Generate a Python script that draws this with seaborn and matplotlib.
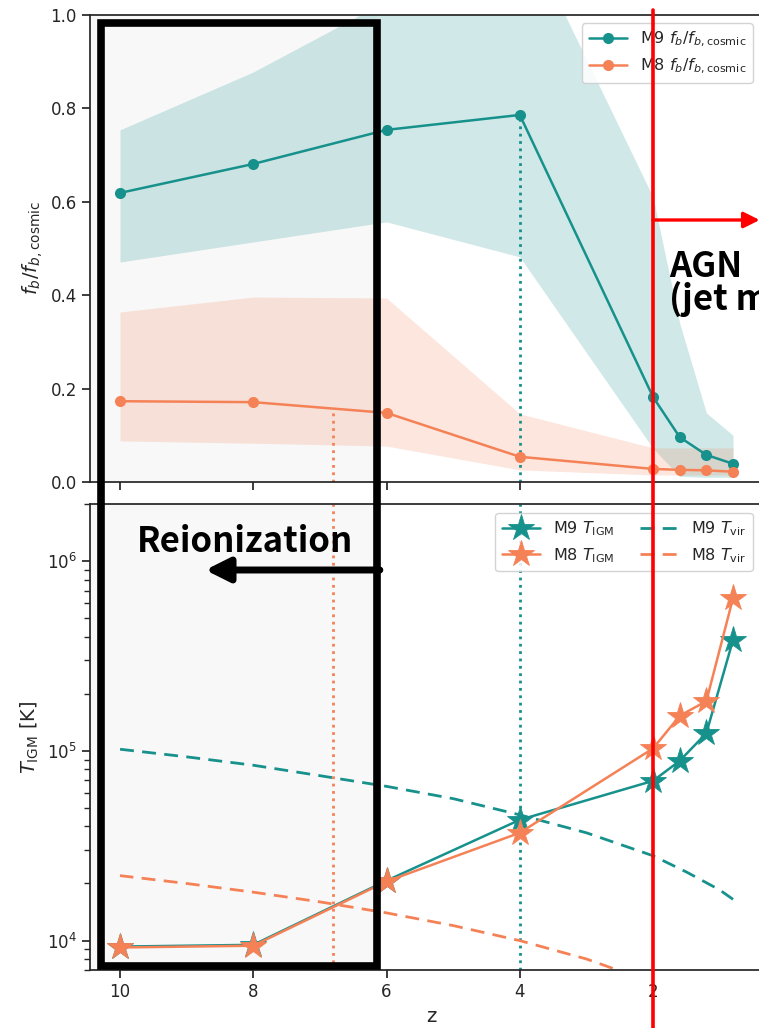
import matplotlib
matplotlib.use("Agg")
import matplotlib.pyplot as plt
import matplotlib.transforms as mtransforms
from matplotlib.patches import Rectangle, FancyArrowPatch
from matplotlib.lines import Line2D
import numpy as np
import pandas as pd
import seaborn as sns

# ---------------- data ----------------
z_snap = [10, 8, 6, 4, 2, 1.6, 1.2, 0.8]
fb_m9 = [0.619, 0.681, 0.754, 0.786, 0.182, 0.096, 0.058, 0.039]
fb_m9_lo = [0.471, 0.514, 0.557, 0.482, 0.072, 0.012, 0.010, 0.010]
fb_m9_hi = [0.754, 0.878, 1.03, 1.20, 0.61, 0.34, 0.148, 0.100]
fb_m8 = [0.173, 0.171, 0.148, 0.054, 0.028, 0.026, 0.025, 0.022]
fb_m8_lo = [0.088, 0.083, 0.077, 0.026, 0.015, 0.015, 0.015, 0.015]
fb_m8_hi = [0.364, 0.396, 0.394, 0.146, 0.073, 0.073, 0.073, 0.073]

T_igm_m9 = [9.3e3, 9.5e3, 2.07e4, 4.33e4, 6.95e4, 8.86e4, 1.24e5, 3.84e5]
T_igm_m8 = [9.2e3, 9.4e3, 2.05e4, 3.70e4, 1.03e5, 1.53e5, 1.83e5, 6.38e5]

z_vir = [10, 9, 8, 7, 6, 5, 4, 3, 2, 1.5, 1, 0.8]
T_vir_m9 = [1.02e5, 9.3e4, 8.4e4, 7.4e4, 6.5e4, 5.6e4, 4.6e4, 3.7e4, 2.8e4, 2.3e4, 1.85e4, 1.65e4]
T_vir_m8 = [2.2e4, 2.0e4, 1.8e4, 1.6e4, 1.4e4, 1.2e4, 1.0e4, 8.0e3, 6.0e3, 5.0e3, 4.0e3, 3.6e3]

z_mark_m8 = 6.8
z_mark_m9 = 4.0
z_reion_edge = 6.14
z_agn = 2.0
xticks = [10, 8, 6, 4, 2]

# ---------------- style ----------------
C9 = "#17918c"
C8 = "#f58257"
sns.set_theme(style="ticks")
plt.rcParams["font.family"] = ["DejaVu Sans"]
plt.rcParams["mathtext.fontset"] = "dejavusans"
ANN_FONT = ["Noto Sans CJK KR", "DejaVu Sans"]

W, H = 759, 1028
fig = plt.figure(figsize=(W / 100, H / 100), dpi=100)
left = 90 / W
width = (773 - 90) / W
ax1 = fig.add_axes([left, 1 - 482 / H, width, 467 / H])
ax2 = fig.add_axes([left, 1 - 970 / H, width, 466 / H], sharex=ax1)

xlim = (10.45, 0.2)

# ---------------- upper panel ----------------
ax1.axvspan(xlim[0], z_reion_edge, color="#f8f8f8", zorder=0, lw=0)
ax1.fill_between(z_snap, fb_m9_lo, fb_m9_hi, color=C9, alpha=0.2, lw=0, zorder=1)
ax1.fill_between(z_snap, fb_m8_lo, fb_m8_hi, color=C8, alpha=0.2, lw=0, zorder=1)
df1 = pd.DataFrame({"z": z_snap, "m9": fb_m9, "m8": fb_m8})
sns.lineplot(data=df1, x="z", y="m9", ax=ax1, color=C9, marker="o", markersize=8,
             markeredgewidth=0, lw=1.8, label=r"M9 $f_b/f_{b,\rm cosmic}$", zorder=3)
sns.lineplot(data=df1, x="z", y="m8", ax=ax1, color=C8, marker="o", markersize=8,
             markeredgewidth=0, lw=1.8, label=r"M8 $f_b/f_{b,\rm cosmic}$", zorder=3)
v8 = np.interp(z_mark_m8, z_snap[::-1], fb_m8[::-1])
v9 = np.interp(z_mark_m9, z_snap[::-1], fb_m9[::-1])
ax1.vlines(z_mark_m8, 0, v8, colors=C8, linestyles=":", lw=2, zorder=2)
ax1.vlines(z_mark_m9, 0, v9, colors=C9, linestyles=":", lw=2, zorder=2)
ax1.set_ylim(0, 1.0)
ax1.set_xlim(*xlim)
ax1.set_ylabel(r"$f_b/f_{b,\rm cosmic}$", fontsize=14)
ax1.set_xlabel("")
ax1.tick_params(labelbottom=False, labelsize=12)
leg1 = ax1.legend(loc="upper right", bbox_to_anchor=(0.97, 0.982), borderaxespad=0,
                  fontsize=11.5, handlelength=2.4, framealpha=0.85, edgecolor="#cccccc")

# ---------------- lower panel ----------------
ax2.axvspan(xlim[0], z_reion_edge, color="#f8f8f8", zorder=0, lw=0)
df2 = pd.DataFrame({"z": z_snap, "m9": T_igm_m9, "m8": T_igm_m8})
df3 = pd.DataFrame({"z": z_vir, "m9": T_vir_m9, "m8": T_vir_m8})
ax2.axvline(z_mark_m8, color=C8, ls=":", lw=2, zorder=1)
ax2.axvline(z_mark_m9, color=C9, ls=":", lw=2, zorder=1)
sns.lineplot(data=df2, x="z", y="m9", ax=ax2, color=C9, marker="*", markersize=20,
             markeredgewidth=0.6, markeredgecolor=C9, lw=1.8, label=r"M9 $T_{\rm IGM}$", zorder=3)
sns.lineplot(data=df2, x="z", y="m8", ax=ax2, color=C8, marker="*", markersize=20,
             markeredgewidth=0.6, markeredgecolor=C8, lw=1.8, label=r"M8 $T_{\rm IGM}$", zorder=3)
sns.lineplot(data=df3, x="z", y="m9", ax=ax2, color=C9, lw=2, dashes=False,
             label=r"M9 $T_{\rm vir}$", zorder=2)
sns.lineplot(data=df3, x="z", y="m8", ax=ax2, color=C8, lw=2, dashes=False,
             label=r"M8 $T_{\rm vir}$", zorder=2)
for ln in ax2.get_lines()[-2:]:
    ln.set_dashes([5, 3])
ax2.set_yscale("log")
ax2.set_ylim(7.0e3, 2.0e6)
ax2.set_xlim(*xlim)
ax2.set_xticks(xticks)
ax2.set_xticklabels([str(t) for t in xticks])
ax2.set_ylabel(r"$T_{\rm IGM}$ [K]", fontsize=14)
ax2.set_xlabel("z", fontsize=14)
ax2.tick_params(labelsize=12)
h, l = ax2.get_legend_handles_labels()
leg2 = ax2.legend(h, l, loc="upper right", ncol=2, bbox_to_anchor=(0.97, 0.981),
                  borderaxespad=0, fontsize=11.5, handlelength=2.4, columnspacing=1.6,
                  framealpha=0.85, edgecolor="#cccccc")
for lh in leg2.get_lines()[2:]:
    lh.set_dashes([5, 3])

# ---------------- annotations ----------------
tr = mtransforms.blended_transform_factory(ax1.transData, fig.transFigure)
fy = lambda py: 1 - py / H

box = Rectangle((10.28, fy(966)), 6.14 - 10.28, fy(23) - fy(966), transform=tr,
                fill=False, ec="black", lw=5.5, clip_on=False, zorder=10)
fig.add_artist(box)

fig.add_artist(Line2D([z_agn, z_agn], [fy(10), 0.0], transform=tr, color="red",
                      lw=2.6, clip_on=False, zorder=11))

fig.text(8.12, fy(541), "Reionization", transform=tr, ha="center", va="center",
         fontsize=25, fontweight="bold", family=ANN_FONT, color="black", zorder=12)
fig.add_artist(FancyArrowPatch((6.10, fy(570)), (8.72, fy(570)), transform=tr,
                               arrowstyle="-|>", color="black", lw=5, mutation_scale=36,
                               shrinkA=0, shrinkB=0, clip_on=False, zorder=12))

fig.add_artist(FancyArrowPatch((z_agn, fy(220)), (0.40, fy(220)), transform=tr,
                               arrowstyle="-|>", color="red", lw=2.4, mutation_scale=24,
                               shrinkA=0, shrinkB=0, clip_on=False, zorder=12))
fig.text(1.76, fy(277), "AGN", transform=tr, ha="left", va="baseline",
         fontsize=25, fontweight="bold", family=ANN_FONT, color="black", zorder=12)
fig.text(1.76, fy(310), "(jet mode)", transform=tr, ha="left", va="baseline",
         fontsize=25, fontweight="bold", family=ANN_FONT, color="black", zorder=12)

fig.savefig("out.png", dpi=100)
